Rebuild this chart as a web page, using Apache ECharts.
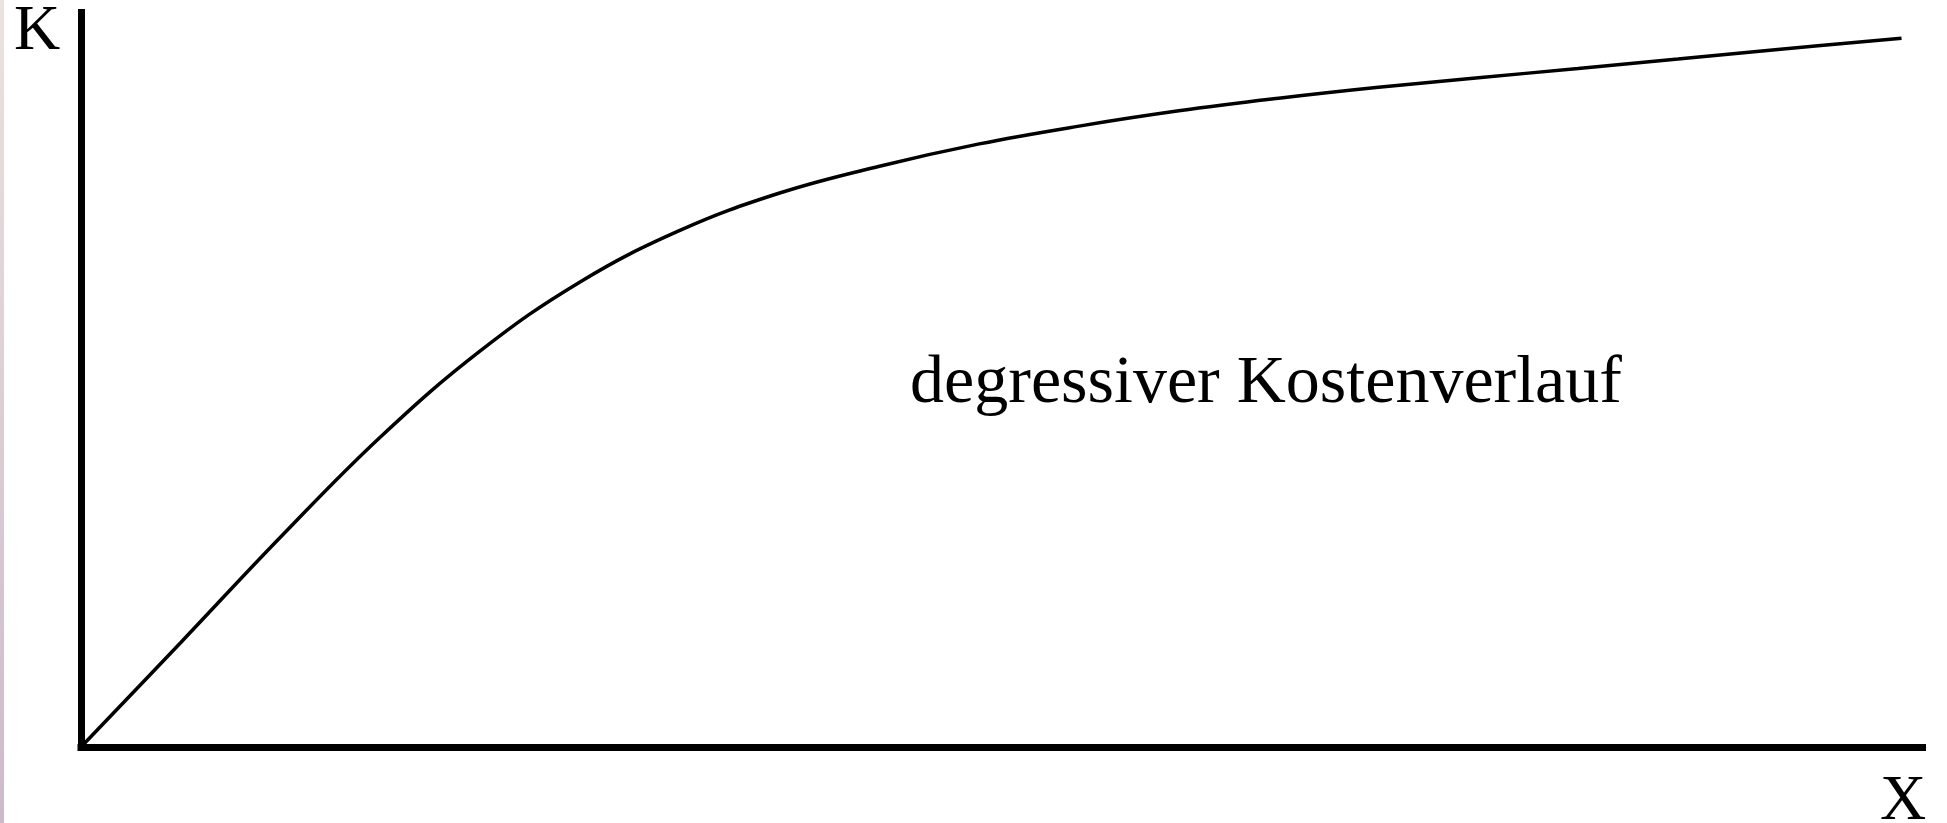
<!DOCTYPE html>
<html>
<head>
<meta charset="utf-8">
<title>degressiver Kostenverlauf</title>
<script src="https://cdn.jsdelivr.net/npm/echarts@6/dist/echarts.min.js"></script>
<style>
  html, body { margin: 0; padding: 0; background: #fff; }
  #chart { width: 1947px; height: 823px; }
</style>
</head>
<body>
<div id="chart"></div>
<script>
// Menge X (0..100) und Kosten K (0..100)
const mengeX = [0, 5.42, 10.84, 16.26, 21.68, 27.1, 32.52, 37.94, 43.36, 48.78, 54.2, 59.62, 65.04, 70.46, 75.88, 81.3, 86.72, 92.14, 98.86];
const kostenK = [0, 14.23, 28.59, 42.21, 53.93, 63.32, 70.33, 75.42, 79.07, 82.11, 84.53, 86.61, 88.32, 89.81, 91.11, 92.38, 93.66, 94.96, 96.48];

const axisName = { y: "K", x: "X" };
const curveLabel = "degressiver Kostenverlauf";

const serif = '"Liberation Serif", "Times New Roman", serif';

const chart = echarts.init(document.getElementById("chart"));

const option = {
  animation: false,
  backgroundColor: "#fff",
  grid: {
    left: 81,
    right: 24.5,
    top: 12.5,
    bottom: 76
  },
  xAxis: {
    type: "value",
    min: 0,
    max: 100,
    axisLine: {
      show: true,
      onZero: false,
      lineStyle: { color: "#000", width: 7, cap: "square" }
    },
    axisTick: { show: false },
    axisLabel: { show: false },
    splitLine: { show: false }
  },
  yAxis: {
    type: "value",
    min: 0,
    max: 100,
    axisLine: {
      show: true,
      onZero: false,
      lineStyle: { color: "#000", width: 7, cap: "square" }
    },
    axisTick: { show: false },
    axisLabel: { show: false },
    splitLine: { show: false }
  },
  series: [
    {
      name: curveLabel,
      type: "line",
      data: mengeX.map((x, i) => [x, kostenK[i]]),
      symbol: "none",
      smooth: 0.4,
      lineStyle: { color: "#000", width: 3.5 },
      z: 1
    }
  ],
  graphic: [
    {
      // rosa Rand links
      type: "rect",
      left: 0,
      top: 0,
      shape: { width: 4, height: 823 },
      style: {
        fill: new echarts.graphic.LinearGradient(0, 0, 0, 1, [
          { offset: 0, color: "#ece2dd" },
          { offset: 1, color: "#cdb9cc" }
        ])
      },
      silent: true
    },
    {
      type: "text",
      x: 37,
      y: 32,
      style: {
        text: axisName.y,
        font: "64px " + serif,
        fill: "#000",
        textAlign: "center",
        textVerticalAlign: "middle"
      }
    },
    {
      type: "text",
      x: 1903,
      y: 802,
      style: {
        text: axisName.x,
        font: "64px " + serif,
        fill: "#000",
        textAlign: "center",
        textVerticalAlign: "middle"
      }
    },
    {
      type: "text",
      x: 1266,
      y: 384,
      style: {
        text: curveLabel,
        font: "68px " + serif,
        fill: "#000",
        textAlign: "center",
        textVerticalAlign: "middle"
      }
    }
  ]
};

chart.setOption(option);
</script>
</body>
</html>
